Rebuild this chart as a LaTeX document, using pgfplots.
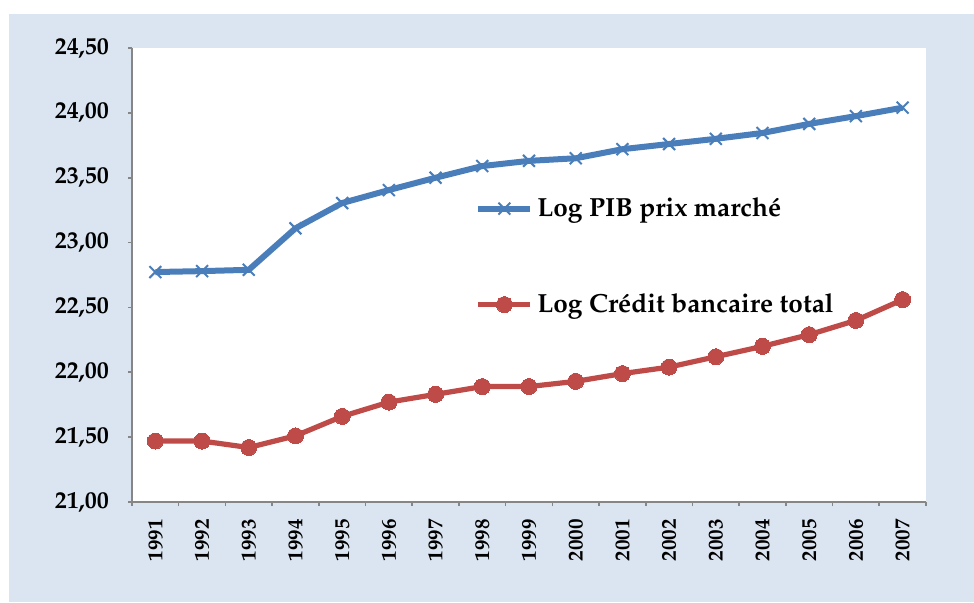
\documentclass[border=0pt]{standalone}
\usepackage[T1]{fontenc}
\usepackage{mathpazo}
\usepackage{pgfplots}
\pgfplotsset{compat=1.18}
\definecolor{bgblue}{HTML}{DBE5F1}
\definecolor{xlblue}{HTML}{4A7EBB}
\definecolor{xlred}{HTML}{BE4B48}
\definecolor{axgray}{HTML}{868686}
\begin{document}
\begin{tikzpicture}
\useasboundingbox (-66pt,-50pt) rectangle (421pt,251pt);
\fill[white] (-66pt,-50pt) rectangle (421pt,251pt);
\fill[bgblue] (-61.5pt,-50pt) rectangle (421pt,244pt);
\begin{axis}[
  at={(0,0)}, anchor=south west,
  scale only axis, width=397pt, height=227pt,
  axis background/.style={fill=white},
  xmin=1990.5, xmax=2007.5,
  ymin=21, ymax=24.5,
  ytick={21,21.5,...,24.5},
  xtick={1991,...,2007},
  minor xtick={1990.5,1991.5,...,2007.5},
  axis x line*=bottom, axis y line*=left,
  axis line style={axgray, line width=0.8pt, -},
  tick align=outside,
  major tick length=2pt,
  minor tick length=2pt,
  x tick style={draw=none},
  minor x tick style={draw=axgray, line width=0.8pt},
  y tick style={draw=axgray, line width=0.8pt},
  xticklabel style={rotate=90, anchor=east, font=\fontsize{10.5}{12}\selectfont\bfseries, yshift=0pt, xshift=-3pt},
  xticklabel={\pgfmathprintnumber[1000 sep=]{\tick}},
  yticklabel style={font=\fontsize{12}{14}\selectfont\bfseries, xshift=-6pt},
  /pgf/number format/assume math mode=true,
  y tick label style={/pgf/number format/.cd, fixed, fixed zerofill, precision=2, use comma},
  legend style={draw=none, fill=none, at={(0.432,0.68)}, anchor=north west,
    font=\fontsize{13.1}{15.5}\selectfont\bfseries, row sep=33pt, inner sep=0pt},
  legend cell align=left,
  legend image code/.code={\draw[#1] (0pt,0pt) -- (13pt,0pt) -- (26pt,0pt); \path[#1, only marks] plot coordinates {(13pt,0pt)};},
  clip=false,
]
\addplot[xlblue, line width=3pt, mark=x, mark size=4.2pt, mark options={line width=1pt, solid}] coordinates {
(1991,22.773) (1992,22.78) (1993,22.79) (1994,23.11) (1995,23.305) (1996,23.405) (1997,23.50) (1998,23.59) (1999,23.63) (2000,23.65) (2001,23.72) (2002,23.76) (2003,23.80) (2004,23.845) (2005,23.915) (2006,23.975) (2007,24.04)
};
\addlegendentry{Log PIB prix march\'e}
\addplot[xlred, line width=2.6pt, mark=*, mark size=4pt, mark options={solid, draw=xlred, fill=xlred, line width=0pt}] coordinates {
(1991,21.47) (1992,21.47) (1993,21.42) (1994,21.51) (1995,21.66) (1996,21.77) (1997,21.83) (1998,21.89) (1999,21.89) (2000,21.93) (2001,21.99) (2002,22.04) (2003,22.12) (2004,22.20) (2005,22.29) (2006,22.40) (2007,22.56)
};
\addlegendentry{Log Cr\'edit bancaire total}
\end{axis}
\end{tikzpicture}
\end{document}
